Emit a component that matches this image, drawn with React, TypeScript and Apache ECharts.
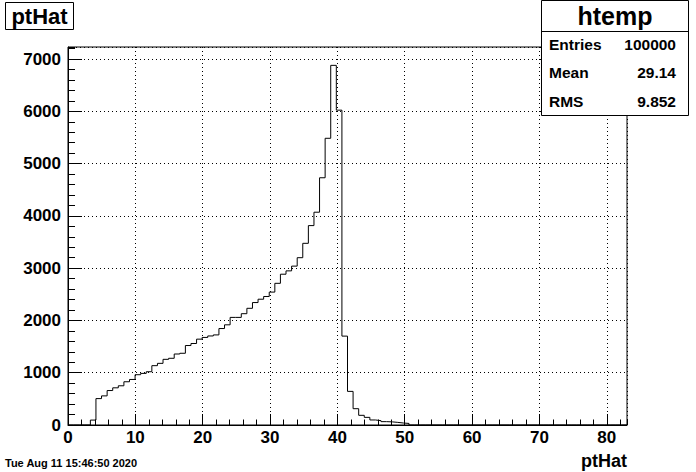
import React, { useEffect, useRef } from "react";
import * as echarts from "echarts";

// Histogram definition (ROOT htemp): 100 bins from 0 to 83
const X_MIN = 0;
const X_MAX = 83;
const N_BINS = 100;
const FIRST_BIN = 4; // index of first non-empty bin
// counts of bins FIRST_BIN .. 60 (all others empty)
const binCounts = [
  94, 505, 557, 659, 711, 750, 827, 871, 962, 987, 1019, 1135, 1179, 1256, 1276,
  1358, 1372, 1520, 1559, 1642, 1675,
  1703, 1723, 1845, 1916, 2058, 2058, 2129, 2232, 2342, 2406, 2458, 2542, 2710,
  2884, 2948, 3039, 3200,
  3475, 3814, 4070, 4729, 5484, 6879, 6022,
  1700, 643, 312, 185, 146, 96, 83, 64, 60, 50, 38, 30,
];
const Y_MAX = 7230;
const xTickLabels = ["0", "10", "20", "30", "40", "50", "60", "70", "80"];
const yTickLabels = ["0", "1000", "2000", "3000", "4000", "5000", "6000", "7000"];

const titleText = "ptHat";
const xTitle = "ptHat";
const statsName = "htemp";
const statsRows: [string, string][] = [
  ["Entries", "100000"],
  ["Mean", "29.14"],
  ["RMS", "9.852"],
];
const dateText = "Tue Aug 11 15:46:50 2020";

const FONT = "'Liberation Sans', Arial, Helvetica, sans-serif";

export default function App() {
  const ref = useRef<HTMLDivElement>(null);
  useEffect(() => {
    if (!ref.current) return;
    const chart = echarts.init(ref.current, undefined, { renderer: "svg" });
    const w = (X_MAX - X_MIN) / N_BINS;
    const pts: [number, number][] = [];
    for (let i = 0; i < N_BINS; i++) {
      const k = i - FIRST_BIN;
      const v = k >= 0 && k < binCounts.length ? binCounts[k] : 0;
      pts.push([X_MIN + i * w, v]);
    }
    pts.push([X_MAX, 0]);

    const labelStyle = {
      color: "#000",
      fontFamily: FONT,
      fontWeight: "bold" as const,
      fontSize: 17,
    };

    const txt = (
      x: number,
      y: number,
      text: string,
      size: number,
      align: string,
      weight = "bold"
    ) => ({
      type: "text",
      x,
      y,
      z: 101,
      style: {
        text,
        fill: "#000",
        fontFamily: FONT,
        fontWeight: weight,
        fontSize: size,
        align,
        textAlign: align,
        verticalAlign: "middle",
        textVerticalAlign: "middle",
      },
    });

    chart.setOption({
      animation: false,
      backgroundColor: "#fff",
      grid: {
        left: 68,
        right: 69,
        top: 47,
        bottom: 47,
        show: true,
        borderColor: "#000",
        borderWidth: 1,
        backgroundColor: "transparent",
      },
      xAxis: [
        {
          type: "value",
          min: X_MIN,
          max: X_MAX,
          interval: 10,
          position: "bottom",
          axisLine: { show: true, lineStyle: { color: "#000", width: 1 } },
          axisTick: { show: true, inside: true, length: 11, lineStyle: { color: "#000" } },
          axisLabel: {
            ...labelStyle,
            margin: 4,
            showMaxLabel: false,
            formatter: (v: number) => {
              const s = String(v);
              return xTickLabels.includes(s) ? s : "";
            },
          },
          splitLine: { show: true, lineStyle: { color: "#000", type: [1, 3], width: 1 } },
        },
        {
          type: "value",
          min: X_MIN,
          max: X_MAX,
          interval: 2,
          position: "bottom",
          offset: 0,
          axisLine: { show: false },
          axisTick: { show: true, inside: true, length: 5.5, lineStyle: { color: "#000" } },
          axisLabel: { show: false },
          splitLine: { show: false },
        },
      ],
      yAxis: [
        {
          type: "value",
          min: 0,
          max: Y_MAX,
          interval: 1000,
          position: "left",
          axisLine: { show: true, lineStyle: { color: "#000", width: 1 } },
          axisTick: { show: true, inside: true, length: 14, lineStyle: { color: "#000" } },
          axisLabel: {
            ...labelStyle,
            margin: 7,
            showMaxLabel: false,
            formatter: (v: number) => {
              const s = String(v);
              return yTickLabels.includes(s) ? s : "";
            },
          },
          splitLine: { show: true, lineStyle: { color: "#000", type: [1, 3], width: 1 } },
        },
        {
          type: "value",
          min: 0,
          max: Y_MAX,
          interval: 200,
          position: "left",
          offset: 0,
          axisLine: { show: false },
          axisTick: { show: true, inside: true, length: 7, lineStyle: { color: "#000" } },
          axisLabel: { show: false },
          splitLine: { show: false },
        },
      ],
      series: [
        {
          type: "line",
          xAxisIndex: 0,
          yAxisIndex: 0,
          step: "end",
          data: pts,
          showSymbol: false,
          symbol: "none",
          lineStyle: { color: "#000", width: 1 },
          z: 5,
        },
      ],
      graphic: [
        {
          type: "rect",
          z: 100,
          shape: { x: 5.5, y: 2.5, width: 68, height: 27 },
          style: { fill: "#fff", stroke: "#000", lineWidth: 1 },
        },
        txt(39.5, 16.5, titleText, 22, "center"),
        {
          type: "rect",
          z: 100,
          shape: { x: 541.5, y: 0.5, width: 147, height: 115 },
          style: { fill: "#fff", stroke: "#000", lineWidth: 1 },
        },
        {
          type: "line",
          z: 101,
          shape: { x1: 541.5, y1: 31.5, x2: 688.5, y2: 31.5 },
          style: { stroke: "#000", lineWidth: 1 },
        },
        txt(615, 16, statsName, 25, "center"),
        ...statsRows.flatMap((r, i) => [
          txt(549, 44 + i * 28.5, r[0], 15.5, "left"),
          txt(676, 44 + i * 28.5, r[1], 15.5, "right"),
        ]),
        txt(5, 463, dateText, 11, "left"),
        txt(627, 461, xTitle, 18, "right"),
      ],
    });
    return () => chart.dispose();
  }, []);
  return (
    <div
      ref={ref}
      style={{
        position: "fixed",
        left: 0,
        top: 0,
        width: 696,
        height: 472,
        background: "#fff",
      }}
    />
  );
}
